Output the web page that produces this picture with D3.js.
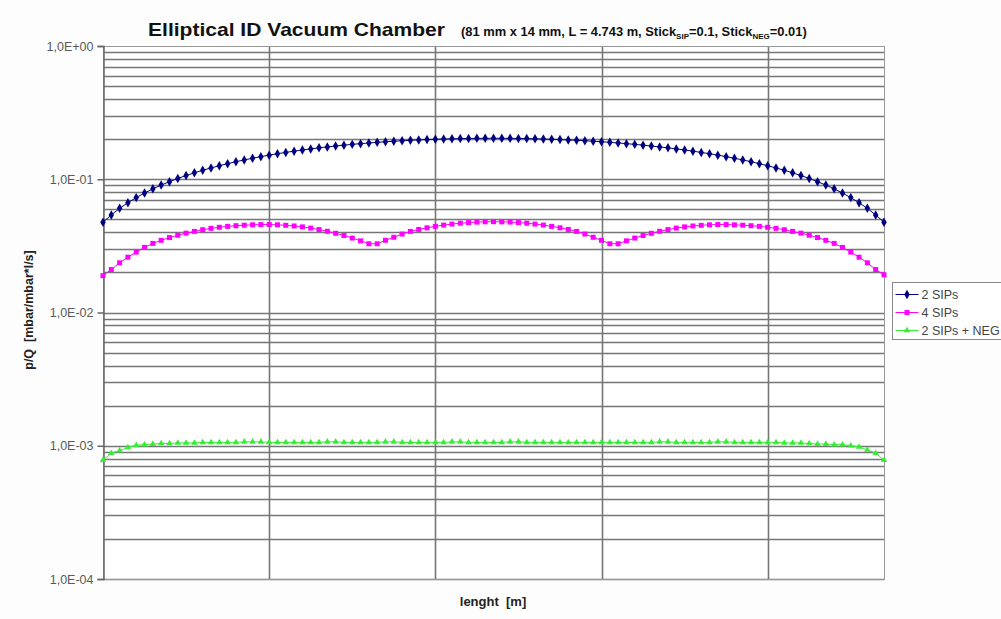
<!DOCTYPE html>
<html>
<head>
<meta charset="utf-8">
<script src="https://cdn.jsdelivr.net/npm/d3@7"></script>
<style>
  body { margin: 0; background: #fcfdfc; }
  svg { display: block; font-family: "Liberation Sans", Arial, sans-serif; }
</style>
</head>
<body>
<svg width="1001" height="619"></svg>
<script>
// chart data (95 points along the chamber)
var seriesNames = ['2 SIPs', '4 SIPs', '2 SIPs + NEG'];
var seriesColors = ['#000080', '#ff00ff', '#33ee33'];
var yTickLabels = ['1,0E+00', '1,0E-01', '1,0E-02', '1,0E-03', '1,0E-04'];
var yTickValues = [1, 0.1, 0.01, 0.001, 0.0001];
var xGridAt = [20, 40, 60, 80];

var sips2 = [
  0.0475, 0.0540, 0.0605, 0.0667, 0.0728, 0.0788, 0.0847, 0.0904, 0.0959, 0.1014,
  0.1066, 0.1118, 0.1168, 0.1216, 0.1263, 0.1309, 0.1354, 0.1396, 0.1438, 0.1478,
  0.1517, 0.1554, 0.1590, 0.1625, 0.1658, 0.1689, 0.1720, 0.1748, 0.1776, 0.1802,
  0.1827, 0.1850, 0.1872, 0.1892, 0.1911, 0.1929, 0.1945, 0.1960, 0.1973, 0.1985,
  0.1996, 0.2005, 0.2012, 0.2019, 0.2024, 0.2027, 0.2029, 0.2030, 0.2029, 0.2027,
  0.2024, 0.2019, 0.2012, 0.2005, 0.1996, 0.1985, 0.1973, 0.1960, 0.1945, 0.1929,
  0.1911, 0.1892, 0.1872, 0.1850, 0.1827, 0.1802, 0.1776, 0.1748, 0.1720, 0.1689,
  0.1658, 0.1625, 0.1590, 0.1554, 0.1517, 0.1478, 0.1438, 0.1396, 0.1354, 0.1309,
  0.1263, 0.1216, 0.1168, 0.1118, 0.1066, 0.1014, 0.0959, 0.0904, 0.0847, 0.0788,
  0.0728, 0.0667, 0.0605, 0.0540, 0.0475
];

var sips4 = [
  0.0189, 0.0210, 0.0236, 0.0260, 0.0284, 0.0308, 0.0330, 0.0348, 0.0365, 0.0380,
  0.0394, 0.0406, 0.0418, 0.0428, 0.0436, 0.0443, 0.0448, 0.0452, 0.0455, 0.0457,
  0.0457, 0.0455, 0.0451, 0.0446, 0.0439, 0.0430, 0.0419, 0.0407, 0.0393, 0.0378,
  0.0362, 0.0345, 0.0328, 0.0328, 0.0348, 0.0367, 0.0388, 0.0406, 0.0420, 0.0432,
  0.0443, 0.0453, 0.0461, 0.0468, 0.0473, 0.0477, 0.0479, 0.0480, 0.0479, 0.0477,
  0.0473, 0.0468, 0.0461, 0.0453, 0.0443, 0.0432, 0.0420, 0.0406, 0.0388, 0.0367,
  0.0348, 0.0328, 0.0328, 0.0345, 0.0362, 0.0378, 0.0393, 0.0407, 0.0419, 0.0430,
  0.0439, 0.0446, 0.0451, 0.0455, 0.0457, 0.0457, 0.0455, 0.0452, 0.0448, 0.0443,
  0.0436, 0.0428, 0.0418, 0.0406, 0.0394, 0.0380, 0.0365, 0.0348, 0.0330, 0.0308,
  0.0284, 0.0260, 0.0236, 0.0210, 0.0192
];

var sipsNeg = [
  0.00078, 0.00088, 0.00092, 0.00097, 0.00101, 0.00102, 0.00103, 0.00104, 0.00104, 0.00105,
  0.00105, 0.00105, 0.00106, 0.00106, 0.00106, 0.00106, 0.00106, 0.00107, 0.00107, 0.00107,
  0.00106, 0.00106, 0.00106, 0.00106, 0.00106, 0.00106, 0.00106, 0.00107, 0.00107, 0.00106,
  0.00106, 0.00106, 0.00106, 0.00106, 0.00107, 0.00107, 0.00106, 0.00106, 0.00106, 0.00106,
  0.00106, 0.00106, 0.00107, 0.00107, 0.00106, 0.00106, 0.00106, 0.00106, 0.00106, 0.00107,
  0.00107, 0.00106, 0.00106, 0.00106, 0.00106, 0.00106, 0.00106, 0.00106, 0.00106, 0.00106,
  0.00106, 0.00106, 0.00106, 0.00106, 0.00106, 0.00106, 0.00106, 0.00107, 0.00107, 0.00106,
  0.00106, 0.00106, 0.00106, 0.00106, 0.00107, 0.00107, 0.00106, 0.00106, 0.00106, 0.00106,
  0.00106, 0.00106, 0.00105, 0.00105, 0.00105, 0.00104, 0.00103, 0.00103, 0.00102, 0.00102,
  0.00100, 0.00098, 0.00093, 0.00088, 0.00078
];

var PLOT_LEFT = 103;
var PLOT_RIGHT = 884;
var PLOT_TOP = 46;
var PLOT_BOTTOM = 579;
var GRID_COLOR = '#767676';

var svg = d3.select('svg');

var x = d3.scaleLinear().domain([0, sips2.length - 1]).range([PLOT_LEFT, PLOT_RIGHT]);
var y = d3.scaleLog().domain([0.0001, 1]).range([PLOT_BOTTOM, PLOT_TOP]);

// plot area
svg.append('rect')
  .attr('x', PLOT_LEFT).attr('y', PLOT_TOP)
  .attr('width', PLOT_RIGHT - PLOT_LEFT).attr('height', PLOT_BOTTOM - PLOT_TOP)
  .style('fill', 'white');

// horizontal grid: every 1..9 of each decade
var hLines = y.ticks().filter(function (v) { return v < 1; });
svg.append('g').selectAll('line')
  .data(hLines)
  .enter().append('line')
  .attr('x1', PLOT_LEFT).attr('x2', PLOT_RIGHT)
  .attr('y1', function (d) { return Math.round(y(d)) + 0.5; })
  .attr('y2', function (d) { return Math.round(y(d)) + 0.5; })
  .style('stroke', GRID_COLOR)
  .style('stroke-width', 1.6);

// vertical grid
svg.append('g').selectAll('line')
  .data(xGridAt)
  .enter().append('line')
  .attr('x1', function (d) { return Math.round(x(d)) + 0.5; })
  .attr('x2', function (d) { return Math.round(x(d)) + 0.5; })
  .attr('y1', PLOT_TOP).attr('y2', PLOT_BOTTOM)
  .style('stroke', GRID_COLOR)
  .style('stroke-width', 1.6);

// frame
svg.append('rect')
  .attr('x', PLOT_LEFT + 0.5).attr('y', PLOT_TOP + 0.5)
  .attr('width', PLOT_RIGHT - PLOT_LEFT).attr('height', PLOT_BOTTOM - PLOT_TOP)
  .style('fill', 'none')
  .style('stroke', '#999')
  .style('stroke-width', 1);

// y axis
var yAxis = d3.axisLeft(y)
  .tickValues(yTickValues)
  .tickSize(6)
  .tickFormat(function (d, i) { return yTickLabels[i]; });

var yAxisG = svg.append('g')
  .attr('transform', 'translate(' + (PLOT_LEFT + 0.5) + ',0)')
  .call(yAxis);
yAxisG.select('.domain').style('stroke', '#666').style('stroke-width', 1.5);
yAxisG.selectAll('.tick line').style('stroke', '#666').style('stroke-width', 1.5);
yAxisG.selectAll('.tick text')
  .attr('x', -10)
  .style('font-family', '"Liberation Sans", Arial, sans-serif')
  .style('font-size', '12.5px')
  .style('fill', '#5a5a5a');

// series
var allSeries = [sips2, sips4, sipsNeg];
var symbols = [d3.symbolDiamond, d3.symbolSquare, d3.symbolTriangle];
var symbolSizes = [26, 25, 18];

var line = d3.line()
  .x(function (d, i) { return x(i); })
  .y(function (d) { return y(d); });

allSeries.forEach(function (values, s) {
  var g = svg.append('g');
  g.append('path')
    .datum(values)
    .attr('d', line)
    .style('fill', 'none')
    .style('stroke', seriesColors[s])
    .style('stroke-width', 1);
  g.selectAll('path.pt')
    .data(values)
    .enter().append('path')
    .attr('class', 'pt')
    .attr('transform', function (d, i) { return 'translate(' + x(i) + ',' + y(d) + ')'; })
    .attr('d', d3.symbol().type(symbols[s]).size(symbolSizes[s]))
    .style('fill', seriesColors[s]);
});

// titles
svg.append('text')
  .attr('x', 148)
  .attr('y', 36)
  .attr('textLength', 297)
  .attr('lengthAdjust', 'spacingAndGlyphs')
  .style('font-size', '19px')
  .style('font-weight', 'bold')
  .style('fill', '#111')
  .text('Elliptical ID Vacuum Chamber');

var sub = svg.append('text')
  .attr('x', 461)
  .attr('y', 36)
  .style('font-size', '12.9px')
  .style('font-weight', 'bold')
  .style('fill', '#111');
sub.append('tspan').text('(81 mm x 14 mm,  L = 4.743 m,  Stick');
sub.append('tspan').attr('dy', 3).style('font-size', '8px').text('SIP');
sub.append('tspan').attr('dy', -3).text('=0.1,  Stick');
sub.append('tspan').attr('dy', 3).style('font-size', '8px').text('NEG');
sub.append('tspan').attr('dy', -3).text('=0.01)');

svg.append('text')
  .attr('x', 493)
  .attr('y', 606)
  .attr('text-anchor', 'middle')
  .style('font-size', '13px')
  .style('font-weight', 'bold')
  .style('fill', '#222')
  .style('white-space', 'pre')
  .text('lenght  [m]');

svg.append('text')
  .attr('transform', 'translate(33,310) rotate(-90)')
  .attr('text-anchor', 'middle')
  .style('font-size', '12.5px')
  .style('font-weight', 'bold')
  .style('fill', '#222')
  .style('white-space', 'pre')
  .text('p/Q  [mbar/mbar*l/s]');

// legend
var legend = svg.append('g').attr('transform', 'translate(892.5,282.5)');
legend.append('rect')
  .attr('width', 115).attr('height', 57)
  .style('fill', 'white')
  .style('stroke', '#888')
  .style('stroke-width', 1);

seriesNames.forEach(function (name, s) {
  var ly = 12 + s * 18;
  legend.append('line')
    .attr('x1', 3).attr('x2', 26)
    .attr('y1', ly).attr('y2', ly)
    .style('stroke', seriesColors[s]);
  legend.append('path')
    .attr('transform', 'translate(14.5,' + ly + ')')
    .attr('d', d3.symbol().type(symbols[s]).size(symbolSizes[s]))
    .style('fill', seriesColors[s]);
  legend.append('text')
    .attr('x', 29).attr('y', ly + 4.5)
    .style('font-size', '12.5px')
    .style('fill', '#444')
    .text(name);
});
</script>
</body>
</html>
